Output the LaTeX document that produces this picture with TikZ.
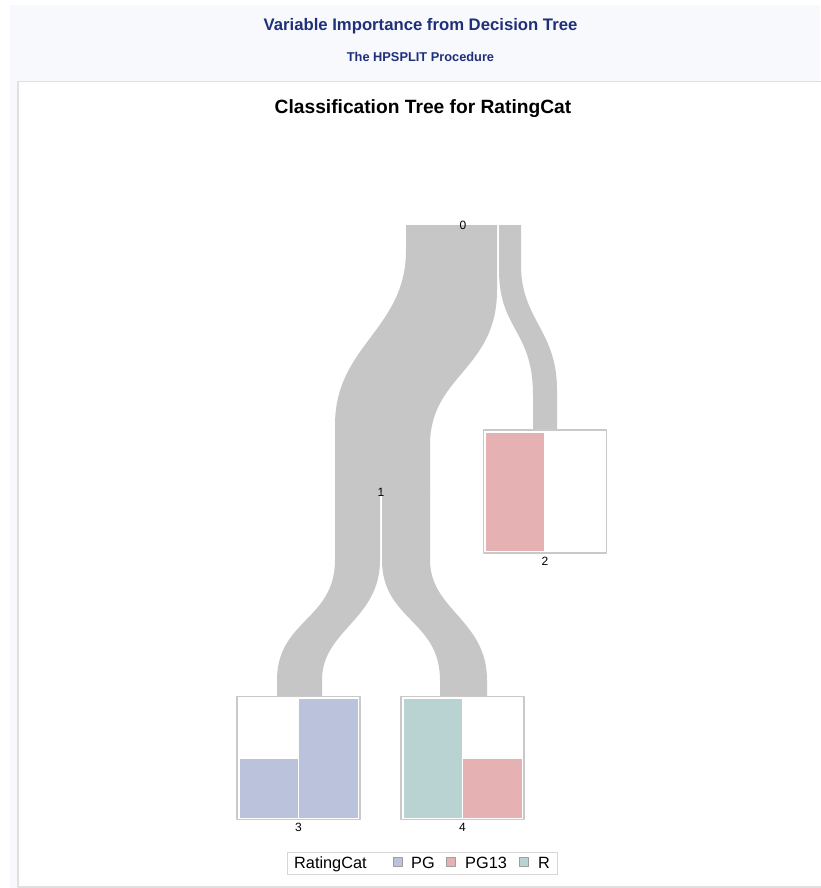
\documentclass[tikz,border=0pt]{standalone}
\usepackage{fontspec}
\setmainfont{Liberation Sans}
\usetikzlibrary{positioning}
\definecolor{pagebg}{HTML}{F8F9FD}
\definecolor{titleblue}{HTML}{1F2F7A}
\definecolor{linkgray}{HTML}{C6C6C6}
\definecolor{framegray}{HTML}{C9C9C9}
\definecolor{panelgray}{HTML}{E0E0E0}
\definecolor{pgblue}{HTML}{BAC2DC}
\definecolor{pgpink}{HTML}{E6B1B3}
\definecolor{rteal}{HTML}{B9D3D2}
\tikzset{
  leafbox/.style={draw=framegray, line width=1.3pt, fill=white, minimum width=123pt, minimum height=123pt, inner sep=0pt},
  idlabel/.style={font=\fontsize{12}{12}\selectfont, inner sep=0pt},
  link/.style={fill=linkgray},
  legsq/.style={draw=gray!75, line width=0.8pt, minimum size=9pt, inner sep=0pt},
  legtxt/.style={font=\fontsize{16.3}{17}\selectfont, inner sep=0pt, anchor=base west},
  every picture/.style={line cap=round, line join=round}
}

\begin{document}
\begin{tikzpicture}[x=1pt, y=-1pt]
    \useasboundingbox (0,0) rectangle (820,888);
    \fill[white] (0,0) rectangle (820,888);
    \fill[pagebg] (10,5) rectangle (820,888);
    \draw[panelgray, fill=white, line width=1.5pt] (18,81.5) rectangle (823,887);

    \node[anchor=base, text=titleblue, font=\bfseries\fontsize{16.7}{18}\selectfont] (title) at (420.5,31) {Variable Importance from Decision Tree};
    \node[anchor=base, text=titleblue, font=\bfseries\fontsize{12.8}{14}\selectfont] (subtitle) at (420.5,61.5) {The HPSPLIT Procedure};
    \node[anchor=base, font=\bfseries\fontsize{19.2}{21}\selectfont] (charttitle) at (423,113.5) {Classification Tree for RatingCat};

    % links
    \fill[link] (406,225) -- (406,250) .. controls (406,330) and (335,345) .. (335,425) -- (335,492)
      -- (430,492) -- (430,445) .. controls (430,375) and (497,370) .. (497,290) -- (497,225) -- cycle;
    \fill[link] (499,225) -- (499,270) .. controls (499,330) and (533,330) .. (533,395) -- (533,431)
      -- (557,431) -- (557,390) .. controls (557,330) and (521,320) .. (521,265) -- (521,225) -- cycle;
    \fill[link] (335,491) -- (335,560) .. controls (335,620) and (277,620) .. (277,680) -- (277,697)
      -- (322,697) -- (322,680) .. controls (322,630) and (380,620) .. (380,560) -- (380,491) -- cycle;
    \fill[link] (382,491) -- (382,560) .. controls (382,620) and (440,620) .. (440,680) -- (440,697)
      -- (487,697) -- (487,680) .. controls (487,620) and (430,610) .. (430,560) -- (430,491) -- cycle;

    % leaves
    \node[leafbox] (n2) at (545,491.5) {};
    \node[leafbox] (n3) at (298.5,758) {};
    \node[leafbox] (n4) at (462.5,758) {};
    \fill[pgpink] (485.5,432.5) rectangle (543.5,551);
    \fill[pgblue] (239.5,759) rectangle (297.8,818.3);
    \fill[pgblue] (299.2,698.7) rectangle (357.6,818.3);
    \fill[rteal] (403.5,698.7) rectangle (461.8,818.3);
    \fill[pgpink] (463.2,759) rectangle (521.6,818.3);

    \node[idlabel] (id0) at (463,225) {0};
    \node[idlabel] (id1) at (381,492) {1};
    \node[idlabel, below=3pt of n2] (id2) {2};
    \node[idlabel, below=3pt of n3] (id3) {3};
    \node[idlabel, below=3pt of n4] (id4) {4};

    % legend
    \draw[panelgray!90!gray, fill=white, line width=1pt] (287,852) rectangle (557,874);
    \node[legtxt] (legname) at (294,868) {RatingCat};
    \node[legsq, fill=pgblue] (sqpg) at (398,862) {};
    \node[legtxt] (txpg) at (411,868) {PG};
    \node[legsq, fill=pgpink] (sqpg13) at (451,862) {};
    \node[legtxt] (txpg13) at (465,868) {PG13};
    \node[legsq, fill=rteal] (sqr) at (524,862) {};
    \node[legtxt] (txr) at (538,868) {R};
  \end{tikzpicture}
\end{document}
